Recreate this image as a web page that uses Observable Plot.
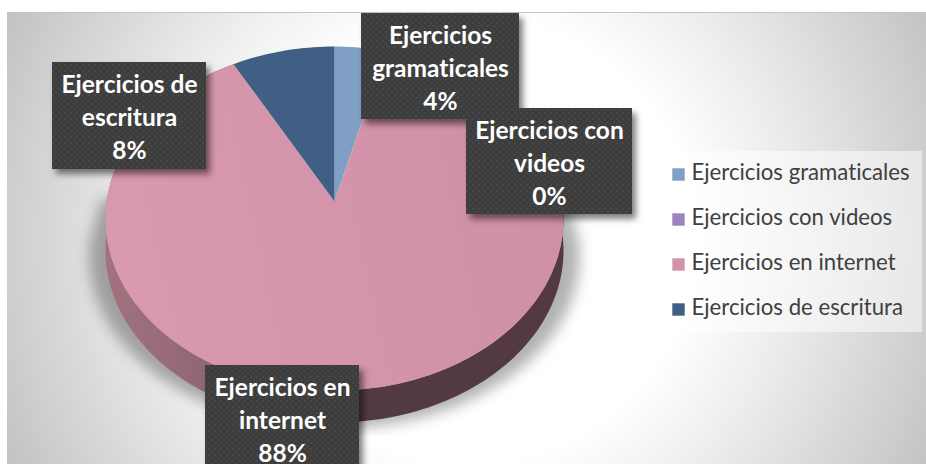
<!DOCTYPE html>
<html><head><meta charset="utf-8">
<script src="https://cdn.jsdelivr.net/npm/d3@7"></script>
<script src="https://cdn.jsdelivr.net/npm/@observablehq/plot@0.6"></script>
<style>html,body{margin:0;padding:0;background:#fff;overflow:hidden}svg{display:block}svg text{font-variant-ligatures:none;font-kerning:normal}</style>
</head><body><div id="chart"></div>
<script>
// Data
const categories = ["Ejercicios gramaticales","Ejercicios con videos","Ejercicios en internet","Ejercicios de escritura"];
const shares = [4,0,88,8];
const labelLines = [["Ejercicios","gramaticales"],["Ejercicios con","videos"],["Ejercicios en","internet"],["Ejercicios de","escritura"]];
const sliceColors = ["#7f9fc4","#9e84be","url(#pinkFace)","#3f5f85"];
const legendColors = ["#7f9fc4","#9e84be","#d093a8","#3f5f85"];

// Layout
const W = 926, H = 464;
const pie = {x0:334,y0:201,a:227.9,b:170.3,k:0.0988,depth:32};
const boxes = [
  {x1:361,x2:519,y1:13,y2:119},
  {x1:466,x2:632,y1:108,y2:214},
  {x1:205,x2:359,y1:365,y2:471},
  {x1:52,x2:206,y1:62,y2:169}
];
const legendBox = {x1:659,x2:922,y1:151,y2:332};
const legendY = [174,219,264,309];
const panel = {x1:7,x2:W,y1:12,y2:H};
const shadowEnd = 436;

// perspective projection of a point on the pie's rim at a running fraction f
function rim(f,r=1){
  const t=2*Math.PI*f,u=r*Math.sin(t),v=r*Math.cos(t),w=1+pie.k*v;
  return {x:pie.x0+pie.a*u/w,y:pie.y0-pie.b*v/w};
}
const total=d3.sum(shares);
let run=0;
const slices=shares.map((s,i)=>{
  const start=run/total,end=(run+s)/total;run+=s;
  const n=Math.max(2,Math.ceil((end-start)*240));
  const arc=d3.range(n+1).map(j=>rim(start+(end-start)*j/n));
  return {i,s,arc,points:[{x:pie.x0,y:pie.y0},...arc]};
}).filter(d=>d.s>0);
const big=slices.find(d=>d.i===2);
const wall=[...big.arc,...big.arc.slice().reverse().map(p=>({x:p.x,y:p.y+pie.depth}))];
// soft shadow under the disc: the front half of the rim, spread outward
const front=d3.range(0,121).map(j=>rim(0.25+0.5*j/120)).map(p=>({x:pie.x0+(p.x-pie.x0)*1.07,y:p.y+pie.depth+6}));
const shadow=[{x:pie.x0+(pie.a+5),y:pie.y0-2},...front,{x:pie.x0-(pie.a+5),y:pie.y0-2}];

const defs=()=>{
  const s=d3.create("svg:g");
  const d=s.append("defs");
  const bg=d.append("radialGradient").attr("id","bgGrad").attr("gradientUnits","userSpaceOnUse")
    .attr("cx",470).attr("cy",240).attr("r",530);
  [[0,"#ffffff"],[0.42,"#ffffff"],[0.62,"#ebebeb"],[1,"#bfbfbf"]].forEach(([o,c])=>bg.append("stop").attr("offset",o).attr("stop-color",c));
  const pk=d.append("linearGradient").attr("id","pinkFace").attr("gradientUnits","userSpaceOnUse")
    .attr("x1",105).attr("x2",562).attr("y1",300).attr("y2",200);
  [[0,"#d999af"],[1,"#cf8fa6"]].forEach(([o,c])=>pk.append("stop").attr("offset",o).attr("stop-color",c));
  const wl=d.append("linearGradient").attr("id","wallGrad").attr("gradientUnits","userSpaceOnUse")
    .attr("x1",105).attr("x2",360).attr("y1",0).attr("y2",0);
  [[0,"#a3727f"],[0.6,"#86616f"],[1,"#533942"]].forEach(([o,c])=>wl.append("stop").attr("offset",o).attr("stop-color",c));
  const p=d.append("pattern").attr("id","dots").attr("patternUnits","userSpaceOnUse").attr("width",6).attr("height",6);
  p.append("rect").attr("width",6).attr("height",6).attr("fill","#3d3d3d");
  p.append("rect").attr("x",1).attr("y",1).attr("width",2).attr("height",2).attr("fill","#474747");
  p.append("rect").attr("x",4).attr("y",4).attr("width",2).attr("height",2).attr("fill","#474747");
  return s.node();
};

const plot=Plot.plot({
  width:W,height:H,margin:0,
  x:{domain:[0,W],range:[0,W],axis:null},
  y:{domain:[0,H],range:[0,H],axis:null},
  marks:[
    defs,
    Plot.rect([panel],{x1:"x1",x2:"x2",y1:"y1",y2:"y2",fill:"url(#bgGrad)"}),
    Plot.ruleY([panel.y1],{x1:panel.x1,x2:panel.x2,stroke:"#c4c4c4",strokeWidth:1}),
    Plot.line(shadow,{x:"x",y:"y",fill:"#000",fillOpacity:0.3,stroke:"none",imageFilter:"blur(7px)"}),
    Plot.rect([panel],{x1:"x1",x2:"x2",y1:()=>shadowEnd,y2:"y2",fill:"url(#bgGrad)"}),
    Plot.line(wall,{x:"x",y:"y",fill:"url(#wallGrad)",stroke:"none"}),
    ...slices.map(d=>Plot.line(d.points,{x:"x",y:"y",fill:sliceColors[d.i],stroke:"none"})),
    Plot.rect([legendBox],{x1:"x1",x2:"x2",y1:"y1",y2:"y2",fill:"#fff",fillOpacity:0.5}),
    Plot.dot(categories,{x:()=>678,y:(d,i)=>legendY[i],symbol:"square",r:7,fill:(d,i)=>legendColors[i],stroke:"none"}),
    Plot.text(categories,{x:()=>691,y:(d,i)=>legendY[i]-1.5,text:d=>d,textAnchor:"start",fontSize:22.2,fontFamily:"Lato",fill:"#404040"}),
    ...boxes.flatMap((b,i)=>[
      Plot.rect([b],{x1:d=>d.x1+4,x2:d=>d.x2+4,y1:d=>d.y1+5,y2:d=>d.y2+5,fill:"#000",fillOpacity:0.5,imageFilter:"blur(3px)"}),
      Plot.rect([b],{x1:"x1",x2:"x2",y1:"y1",y2:"y2",fill:"url(#dots)"}),
      Plot.text([b],{x:d=>(d.x1+d.x2)/2,y:d=>d.y1+52.5,text:()=>[...labelLines[i],shares[i]+"%"].join("\n"),
        fontFamily:"Lato",fontWeight:700,fontSize:24.5,lineHeight:1.347,fill:"#fff",textAnchor:"middle"})
    ])
  ]
});
document.getElementById("chart").appendChild(plot);
</script></body></html>
